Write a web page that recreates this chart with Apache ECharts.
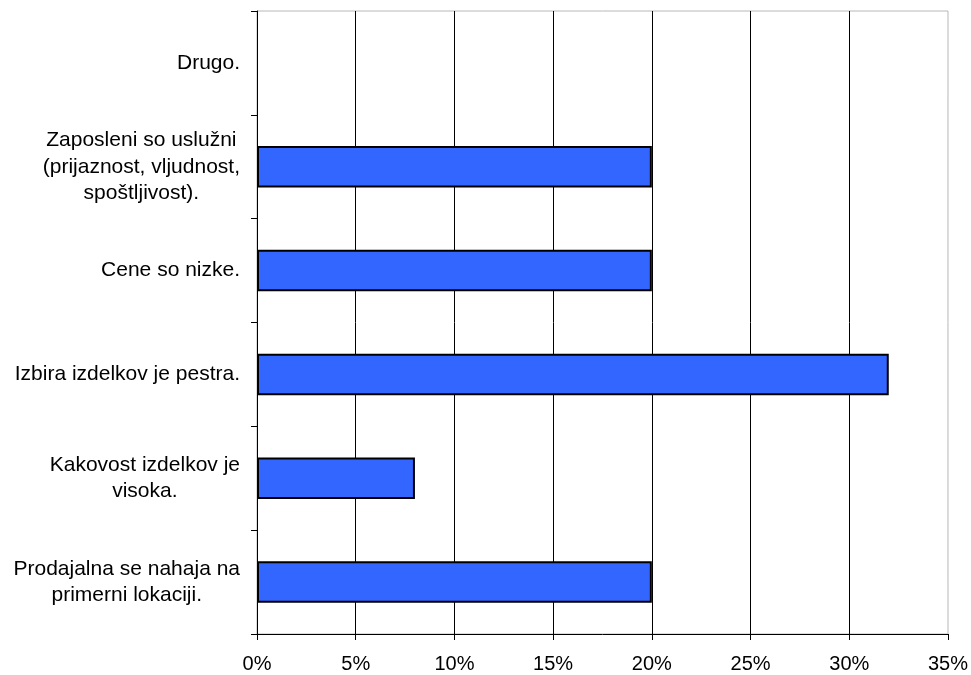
<!DOCTYPE html>
<html>
<head>
<meta charset="utf-8">
<script src="https://cdn.jsdelivr.net/npm/echarts@6/dist/echarts.min.js"></script>
<style>
  html, body { margin: 0; padding: 0; background: #fff; }
  #chart { width: 971px; height: 675px; }
</style>
</head>
<body>
<div id="chart"></div>
<script>
// Reasons for choosing the store, share of respondents (%), bottom to top
const categories = [
  'Prodajalna se nahaja na\nprimerni lokaciji.',
  'Kakovost izdelkov je\nvisoka.',
  'Izbira izdelkov je pestra.',
  'Cene so nizke.',
  'Zaposleni so uslužni\n(prijaznost, vljudnost,\nspoštljivost).',
  'Drugo.'
];
const shares = [20, 8, 32, 20, 20, 0];
const axisMax = 35;
const axisStep = 5;

const chart = echarts.init(document.getElementById('chart'), null, { renderer: 'canvas' });
const font = 'Liberation Sans, Arial, sans-serif';

// an empty share gets no outline, so no sliver is drawn for it
const barData = shares.map(v => v === 0 ? { value: v, itemStyle: { borderWidth: 0 } } : v);

chart.setOption({
  animation: false,
  backgroundColor: '#ffffff',
  grid: {
    left: 257, right: 21, top: 11, bottom: 41,
    show: true, borderColor: '#b8b8b8', borderWidth: 1
  },
  xAxis: {
    type: 'value',
    min: 0, max: axisMax, interval: axisStep,
    axisLine: { show: true, lineStyle: { color: '#000', width: 1 } },
    axisTick: { show: true, length: 6, lineStyle: { color: '#000' } },
    splitLine: { show: true, showMaxLine: false, lineStyle: { color: '#000', width: 1 } },
    axisLabel: {
      formatter: '{value}%',
      color: '#000', fontFamily: font, fontSize: 20, margin: 20
    }
  },
  yAxis: {
    type: 'category',
    data: categories,
    axisLine: { show: true, lineStyle: { color: '#000', width: 1 } },
    axisTick: { show: true, length: 6, lineStyle: { color: '#000' } },
    splitLine: { show: false },
    axisLabel: {
      margin: 17,
      formatter: v => v.split('\n').map(l => '{c|' + l + '}').join('\n'),
      rich: {
        c: { align: 'center', color: '#000', fontFamily: font, fontSize: 21, lineHeight: 26.5 }
      }
    }
  },
  series: [{
    type: 'bar',
    data: barData,
    barCategoryGap: '60%',
    itemStyle: { color: '#3366ff', borderColor: '#000', borderWidth: 2 }
  }]
});
</script>
</body>
</html>
